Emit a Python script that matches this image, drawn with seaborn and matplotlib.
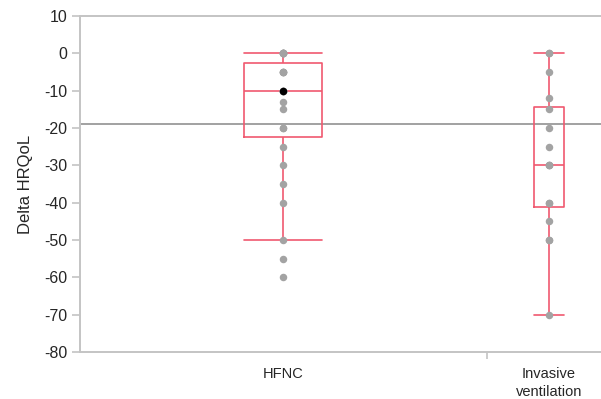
#!/usr/bin/env python3
"""Delta HRQoL by support type: box plots with the individual patients."""

import matplotlib
matplotlib.use("Agg")
import matplotlib.pyplot as plt
import pandas as pd
import seaborn as sns


CATEGORIES = ["HFNC", "Invasive ventilation"]
TICK_LABELS = ["HFNC", "Invasive\nventilation"]

# values (overlapping points are guessed repeats)
HFNC_VALUES = [-60, -55, -50, -40, -35, -30, -25, -20, -20, -15, -13,
               -10, -10, -10, -10, -10, -5, -5, -5, -5,
               0, 0, 0, 0, 0, 0, 0]
INVASIVE_VALUES = [-70, -50, -50, -45, -40, -40, -30, -30, -30, -25, -20,
                   -15, -12, -5, 0, 0]
HIGHLIGHT_GROUP = ["HFNC"]
HIGHLIGHT_VALUE = [-10]
GRAND_MEAN = -18.8

BOX_COLOR = "#f0596f"
POINT_COLOR = "#a3a3a3"
SPINE_COLOR = "#c4c4c4"


def main() -> None:
    df = pd.DataFrame({
        "group": ["HFNC"] * len(HFNC_VALUES) + ["Invasive ventilation"] * len(INVASIVE_VALUES),
        "value": HFNC_VALUES + INVASIVE_VALUES,
    })
    hi = pd.DataFrame({"group": HIGHLIGHT_GROUP, "value": HIGHLIGHT_VALUE})

    sns.set_theme(style="white")
    plt.rcParams["font.family"] = ["Liberation Sans", "DejaVu Sans"]
    plt.rcParams["axes.unicode_minus"] = False

    fig = plt.figure(figsize=(6.01, 3.99), dpi=100)
    ax = fig.add_axes([80 / 601, 47 / 399, 521 / 601, 336 / 399])

    ax.axhline(GRAND_MEAN, color="#9a9a9a", linewidth=1.3, zorder=1)

    # JMP draws the box width by group size
    for cat, width in zip(CATEGORIES, [0.294, 0.113]):
        sns.boxplot(data=df[df["group"] == cat], x="group", y="value", order=CATEGORIES,
                    width=width, fill=False, color=BOX_COLOR, linewidth=1.2,
                    showfliers=False, capwidths=width, ax=ax)

    sns.stripplot(data=df, x="group", y="value", order=CATEGORIES, jitter=False,
                  color=POINT_COLOR, size=5.4, linewidth=0, zorder=5, ax=ax)
    sns.stripplot(data=hi, x="group", y="value", order=CATEGORIES, jitter=False,
                  color="black", size=5.4, linewidth=0, zorder=6, ax=ax)

    ax.set_xlim(-0.766, 1.196)
    ax.set_ylim(-80, 10)
    ax.set_yticks(range(-80, 11, 10))
    ax.set_xticks([0, 1])
    ax.set_xticklabels(TICK_LABELS, fontsize=10.5)
    ax.set_xticks([0.767], minor=True)
    ax.tick_params(axis="x", which="major", length=0, pad=11)
    ax.tick_params(axis="x", which="minor", length=5, width=1.2, color=SPINE_COLOR, bottom=True)
    ax.tick_params(axis="y", length=6, width=1.2, color=SPINE_COLOR, left=True, labelsize=11.5, pad=3)
    for label in ax.get_xticklabels():
        label.set_linespacing(1.35)

    ax.set_xlabel("")
    ax.set_ylabel("Delta HRQoL", fontsize=12, labelpad=8)
    for side in ["left", "bottom", "top"]:
        ax.spines[side].set_color(SPINE_COLOR)
        ax.spines[side].set_linewidth(1.4)
    ax.spines["right"].set_visible(False)

    fig.savefig("out.png", dpi=100)


if __name__ == "__main__":
    main()
